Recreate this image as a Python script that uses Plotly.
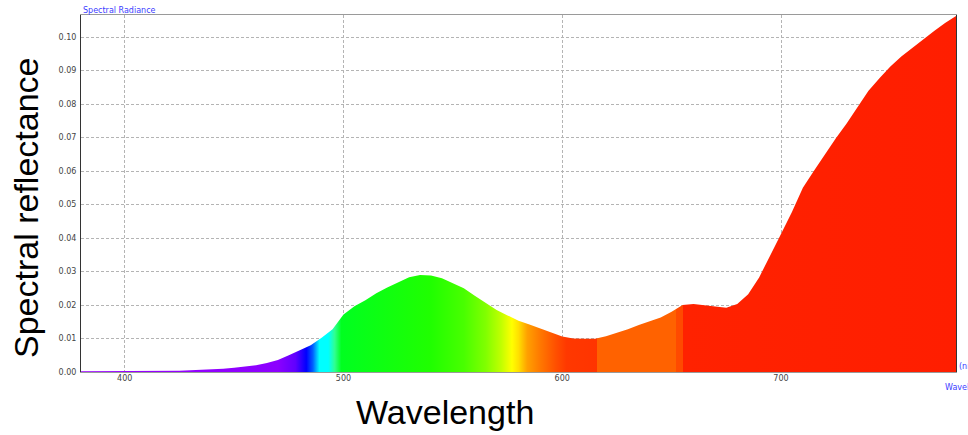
import plotly.graph_objects as go

# Spectral reflectance sampled every 5 nm
wavelength_nm = list(range(380, 781, 5))
reflectance = [
    0.0002, 0.0002, 0.0002, 0.0002, 0.0002, 0.0002, 0.0002, 0.0002,  # 380-415
    0.0003, 0.0004, 0.0005, 0.0006, 0.0008, 0.0010, 0.0013, 0.0016,  # 420-455
    0.0020, 0.0027, 0.0036, 0.0050, 0.0065, 0.0080, 0.0102, 0.0128,  # 460-495
    0.0172, 0.0196, 0.0214, 0.0235, 0.0252, 0.0268, 0.0283, 0.0290,  # 500-535
    0.0288, 0.0280, 0.0265, 0.0250, 0.0228, 0.0207, 0.0185, 0.0169,  # 540-575
    0.0153, 0.0142, 0.0131, 0.0118, 0.0106, 0.0100, 0.0099, 0.0099,  # 580-615
    0.0107, 0.0117, 0.0128, 0.0140, 0.0151, 0.0163, 0.0180, 0.0200,  # 620-655
    0.0203, 0.0199, 0.0194, 0.0192, 0.0203, 0.0232, 0.0282, 0.0349,  # 660-695
    0.0412, 0.0478, 0.0550, 0.0600, 0.0650, 0.0697, 0.0742, 0.0792,  # 700-735
    0.0840, 0.0877, 0.0912, 0.0942, 0.0968, 0.0993, 0.1018, 0.1042,  # 740-775
    0.1063,                                                          # 780
]

# Colour of the area under the curve along the wavelength axis
color_stop_nm = [380, 470, 478, 483, 486, 489, 493, 496, 499, 540, 555, 565,
                 572, 577, 580, 584, 590, 597, 602, 616, 616, 652, 652, 655,
                 655, 780]
color_stop_rgb = ["#9a00ff", "#8c00ff", "#6000ff", "#0000ff", "#0060ff", "#00ffff",
                  "#00ffff", "#30ff90", "#00ff20", "#20ff00", "#48ff00", "#80ff00",
                  "#c0ff00", "#ffff00", "#ffe000", "#ffa000", "#ff7800", "#ff5000",
                  "#ff3800", "#ff3400", "#ff6200", "#ff6200", "#ff4a00", "#ff4a00",
                  "#ff2200", "#ff1e00"]

x_ticks = [400, 500, 600, 700]
y_ticks = [0.00, 0.01, 0.02, 0.03, 0.04, 0.05, 0.06, 0.07, 0.08, 0.09, 0.10]

X_MIN, X_MAX = 380, 780
Y_MAX = 0.1066

colorscale = [[(w - X_MIN) / (X_MAX - X_MIN), c]
              for w, c in zip(color_stop_nm, color_stop_rgb)]

fig = go.Figure()
fig.add_trace(go.Scatter(
    x=wavelength_nm,
    y=reflectance,
    mode="lines",
    line=dict(width=0, color="#ff1e00"),
    fill="tozeroy",
    fillgradient=dict(type="horizontal", colorscale=colorscale,
                      start=X_MIN, stop=X_MAX),
    hoverinfo="skip",
    showlegend=False,
))

tick_font = dict(family="DejaVu Sans", size=8, color="#444444")
grid_style = dict(showgrid=True, gridcolor="#b4b4b4", gridwidth=1,
                  griddash="3px,2px", zeroline=False, ticks="",
                  tickfont=tick_font, showline=True, mirror=True)

fig.update_layout(
    width=968, height=435,
    margin=dict(l=81, r=12, t=15, b=63),
    paper_bgcolor="white", plot_bgcolor="white",
    xaxis=dict(range=[X_MIN, X_MAX], tickvals=x_ticks,
               ticktext=[str(v) for v in x_ticks],
               linecolor="#9a9a9a", linewidth=1, ticklabelstandoff=-2,
               **grid_style),
    yaxis=dict(range=[0, Y_MAX], tickvals=y_ticks,
               ticktext=[f"{v:.2f}" for v in y_ticks],
               linecolor="#333333", linewidth=1, ticklabelstandoff=2,
               **grid_style),
    annotations=[
        dict(text="Spectral Radiance", xref="paper", yref="paper",
             x=0, y=1 + 5 / 357, xanchor="left", yanchor="middle",
             showarrow=False, font=dict(family="DejaVu Sans", size=8, color="#3c3cff")),
        dict(text="(nm)", xref="paper", yref="paper",
             x=(956.5 - 81) / 875, y=(372 - 366) / 357, xanchor="left", yanchor="middle",
             showarrow=False, font=dict(family="DejaVu Sans", size=8, color="#3c3cff")),
        dict(text="Wavelength", xref="paper", yref="paper",
             x=(943 - 81) / 875, y=(372 - 387) / 357, xanchor="left", yanchor="middle",
             showarrow=False, font=dict(family="DejaVu Sans", size=8, color="#3c3cff")),
        dict(text="Wavelength", xref="paper", yref="paper",
             x=(444.5 - 81) / 875, y=(372 - 412) / 357, xanchor="center", yanchor="middle",
             showarrow=False, font=dict(family="Liberation Sans", size=34, color="black")),
        dict(text="Spectral reflectance", xref="paper", yref="paper",
             x=(26 - 81) / 875, y=(372 - 208) / 357, xanchor="center", yanchor="middle",
             textangle=-90, showarrow=False,
             font=dict(family="Liberation Sans", size=34, color="black")),
    ],
)

fig.write_html("out.html")
